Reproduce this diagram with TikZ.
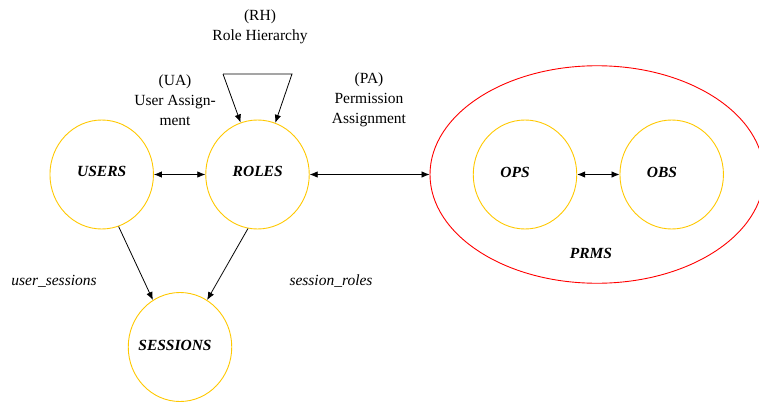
\documentclass[tikz,border=0pt]{standalone}
\usepackage{fontspec}
\setmainfont{Liberation Serif}
\usetikzlibrary{arrows.meta,shapes.geometric}
\definecolor{setgold}{HTML}{FFC800}
\definecolor{permred}{HTML}{FF0000}
\begin{document}
\begin{tikzpicture}[x=1pt,y=-1pt,
  every node/.style={font=\fontsize{15.5}{20}\selectfont},
  setnode/.style={ellipse,draw=setgold,line width=0.9pt,minimum width=103.5pt,minimum height=109pt,inner sep=0pt,font=\fontsize{15.5}{20}\selectfont\bfseries\itshape},
  permset/.style={ellipse,draw=permred,line width=0.9pt,minimum width=334pt,minimum height=217.5pt,inner sep=0pt},
  rel/.style={draw=black,line width=0.8pt,-{Latex[length=8pt,width=6.5pt]}},
  birel/.style={draw=black,line width=0.8pt,{Latex[length=8pt,width=6.5pt]}-{Latex[length=8pt,width=6.5pt]}},
  caption/.style={align=center,inner sep=0pt}]
\useasboundingbox (0,0) rectangle (759,401);

% permission set with operations and objects
\node[permset] (prms) at (597,174.5) {};
\node[setnode] (ops) at (525,174.5) {};
\node[setnode] (obs) at (671.7,174.5) {};
\node at (515,172) {\bfseries\itshape OPS};
\node at (662,172) {\bfseries\itshape OBS};
\node (prmslabel) at (591,253.5) {\bfseries\itshape PRMS};

% users, roles, sessions
\node[setnode] (users) at (101.7,174.5) {};
\node[setnode] (roles) at (257.5,174.5) {};
\node[setnode] (sessions) at (180,347) {};
\node at (101.7,171.7) {\bfseries\itshape USERS};
\node at (257.7,171.7) {\bfseries\itshape ROLES};
\node at (175,345) {\bfseries\itshape SESSIONS};

% relation captions
\node[caption] (rhcap) at (260,27) {(RH)\\Role Hierarchy};
\node[caption] (uacap) at (175,100) {(UA)\\User Assign-\\ment};
\node[caption] (pacap) at (369,100) {(PA)\\Permission\\Assignment};
\node (uslabel) at (54,281.5) {\itshape user\_sessions};
\node (srlabel) at (331,281.5) {\itshape session\_roles};

% connectors
\draw[birel] (users.east) -- (roles.west);
\draw[birel] (roles.east) -- (prms.west);
\draw[birel] (ops.east) -- (obs.west);
\draw[rel] (users.-72) -- (sessions.120);
\draw[rel] (roles.-100) -- (sessions.60);

% role hierarchy self-loop
\coordinate (rhL) at (223,74);
\coordinate (rhR) at (292,74);
\draw[rel] (rhL) -- (roles.108);
\draw[rel] (rhL) -- (rhR) -- (roles.71);
\end{tikzpicture}
\end{document}
